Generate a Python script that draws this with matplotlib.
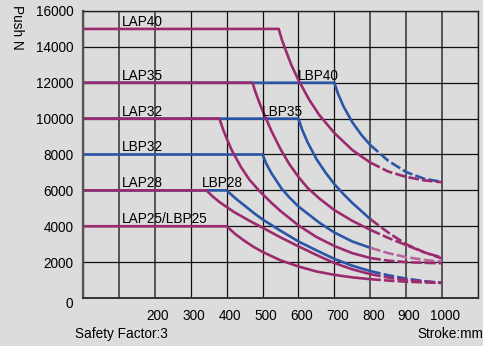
import matplotlib
matplotlib.use("Agg")
import matplotlib.pyplot as plt
from matplotlib.transforms import ScaledTranslation

plt.rcParams['font.family'] = ['Liberation Sans', 'DejaVu Sans']

# ---- data (stroke mm, push N) ----
X_TICKS = [200, 300, 400, 500, 600, 700, 800, 900, 1000]
Y_TICKS = [0, 2000, 4000, 6000, 8000, 10000, 12000, 14000, 16000]

LAP40_X = [0, 545, 553, 561, 580, 600, 630, 658, 700, 750, 800, 850, 900, 950, 1000]
LAP40_Y = [15000, 15000, 14450, 14000, 13000, 12150, 11050, 10200, 9200, 8250, 7550, 7050, 6750, 6560, 6450]

LBP40_X = [0, 700, 710, 725, 750, 775, 800, 850, 900, 950, 1000]
LBP40_Y = [12000, 12000, 11400, 10700, 9800, 9100, 8530, 7650, 7020, 6650, 6470]

LAP35_X = [0, 472, 480, 490, 500, 525, 550, 575, 600, 625, 658, 700, 750, 800, 850, 900, 950, 1000]
LAP35_Y = [12000, 12000, 11500, 10950, 10450, 9300, 8300, 7450, 6750, 6150, 5550, 4900, 4300, 3800, 3350, 2950, 2550, 2200]

LBP35_X = [0, 600, 610, 625, 650, 675, 700, 725, 750, 800, 850, 900, 950, 1000]
LBP35_Y = [10000, 10000, 9400, 8700, 7750, 7000, 6350, 5800, 5300, 4400, 3650, 3000, 2550, 2250]

LAP32_X = [0, 380, 390, 400, 414, 440, 464, 492, 525, 550, 600, 650, 700, 750, 800, 850, 900, 950, 1000]
LAP32_Y = [10000, 10000, 9400, 8900, 8250, 7300, 6580, 5950, 5300, 4850, 4050, 3400, 2900, 2500, 2230, 2080, 2000, 1960, 1940]

LBP32_X = [0, 500, 510, 525, 553, 575, 600, 658, 700, 750, 800, 850, 900, 950, 1000]
LBP32_Y = [8000, 8000, 7500, 6950, 6100, 5600, 5100, 4200, 3650, 3150, 2800, 2500, 2280, 2120, 2020]

LAP28_X = [0, 344, 360, 380, 420, 464, 500, 550, 600, 650, 700, 750, 800, 850, 900, 950, 1000]
LAP28_Y = [6000, 6000, 5680, 5350, 4800, 4300, 3920, 3380, 2880, 2400, 1950, 1600, 1330, 1140, 1000, 910, 850]

LBP28_X = [0, 400, 425, 450, 475, 500, 550, 603, 658, 700, 750, 800, 850, 900, 950, 1000]
LBP28_Y = [6000, 6000, 5550, 5150, 4750, 4380, 3750, 3120, 2580, 2180, 1800, 1500, 1270, 1080, 940, 840]

LAP25_X = [0, 400, 425, 450, 475, 500, 550, 603, 650, 700, 750, 800, 850, 900, 950, 1000]
LAP25_Y = [4000, 4000, 3550, 3180, 2850, 2570, 2100, 1740, 1480, 1290, 1150, 1050, 970, 910, 870, 840]

SERIES = ["LBP40", "LBP35", "LBP32", "LBP28", "LAP40", "LAP35", "LAP32", "LAP28", "LAP25/LBP25"]
SERIES_X = [LBP40_X, LBP35_X, LBP32_X, LBP28_X, LAP40_X, LAP35_X, LAP32_X, LAP28_X, LAP25_X]
SERIES_Y = [LBP40_Y, LBP35_Y, LBP32_Y, LBP28_Y, LAP40_Y, LAP35_Y, LAP32_Y, LAP28_Y, LAP25_Y]
DASH_FROM = 800

# ---- styles ----
MAG = '#9c2a6f'
BLUE = '#2b56a8'
PINK = '#b8649d'
SOLID_COL = [BLUE, BLUE, BLUE, BLUE, MAG, MAG, MAG, MAG, MAG]
DASH_COL = [BLUE, MAG, PINK, BLUE, MAG, MAG, MAG, MAG, MAG]
BG = '#dcdcdc'

fig = plt.figure(figsize=(4.83, 3.46), dpi=100, facecolor=BG)
ax = fig.add_axes([83/483, 48/346, 395/483, 287/346], facecolor=BG)
ax.set_xlim(0, 1100)
ax.set_ylim(0, 16000)

# grid
all_x = list(range(0, 1101, 100))
ax.set_xticks(all_x)
ax.set_xticklabels([str(v) if v in X_TICKS else '' for v in all_x])
ax.set_yticks(Y_TICKS)
ax.set_yticklabels([str(v) for v in Y_TICKS])
ax.grid(True, color='#111111', linewidth=0.9)
gray_cols = {100, 200, 800, 900, 1000}
for v, gl in zip(all_x, ax.xaxis.get_gridlines()):
    if v in gray_cols:
        gl.set_color('#555555')
        gl.set_linewidth(1.4)
ax.set_axisbelow(True)
ax.tick_params(length=0, labelsize=9.8, colors='black')
ax.tick_params(axis='x', pad=8)
ax.tick_params(axis='y', pad=7)
shift = ScaledTranslation(3/100, 0, fig.dpi_scale_trans)
for lbl in ax.get_xticklabels():
    lbl.set_transform(lbl.get_transform() + shift)
ylbls = ax.get_yticklabels()
ylbls[0].set_transform(ylbls[0].get_transform() + ScaledTranslation(0, -4/100, fig.dpi_scale_trans))
for s in ax.spines.values():
    s.set_color('#222222')
    s.set_linewidth(1.0)
ax.spines['left'].set_color('#555555')
ax.spines['left'].set_linewidth(1.6)
ax.spines['bottom'].set_color('#333333')
ax.spines['bottom'].set_linewidth(1.4)

LW = 1.9
for name, xs, ys, sc, dc in zip(SERIES, SERIES_X, SERIES_Y, SOLID_COL, DASH_COL):
    sx = [x for x in xs if x <= DASH_FROM]
    sy = ys[:len(sx)]
    dx = [x for x in xs if x >= DASH_FROM]
    dy = ys[len(xs) - len(dx):]
    ax.plot(sx, sy, color=sc, lw=LW, solid_capstyle='butt', solid_joinstyle='round')
    ax.plot(dx, dy, color=dc, lw=LW, dashes=(4, 1.2), dash_capstyle='butt', dash_joinstyle='round')

# series labels
LABEL_TEXT = ["LAP40", "LAP35", "LAP32", "LBP32", "LAP28", "LAP25/LBP25", "LBP28", "LBP40", "LBP35"]
LABEL_X = [108, 108, 108, 108, 108, 108, 330, 597, 497]
LABEL_Y = [15000, 12000, 10000, 8000, 6000, 4000, 6000, 12000, 10000]
for t, x, y in zip(LABEL_TEXT, LABEL_X, LABEL_Y):
    ax.annotate(t, (x, y), xytext=(0, 7), textcoords='offset pixels',
                ha='left', va='center', fontsize=9.8, color='black')

fig.text(17/483, 1 - 27/346, 'Push N', rotation=270, ha='center', va='center', fontsize=9.8)
fig.text(75/483, 1 - 334/346, 'Safety Factor:3', ha='left', va='center', fontsize=9.8)
fig.text(417/483, 1 - 334/346, 'Stroke:mm', ha='left', va='center', fontsize=9.8)

fig.savefig('out.png', dpi=100, facecolor=BG)
